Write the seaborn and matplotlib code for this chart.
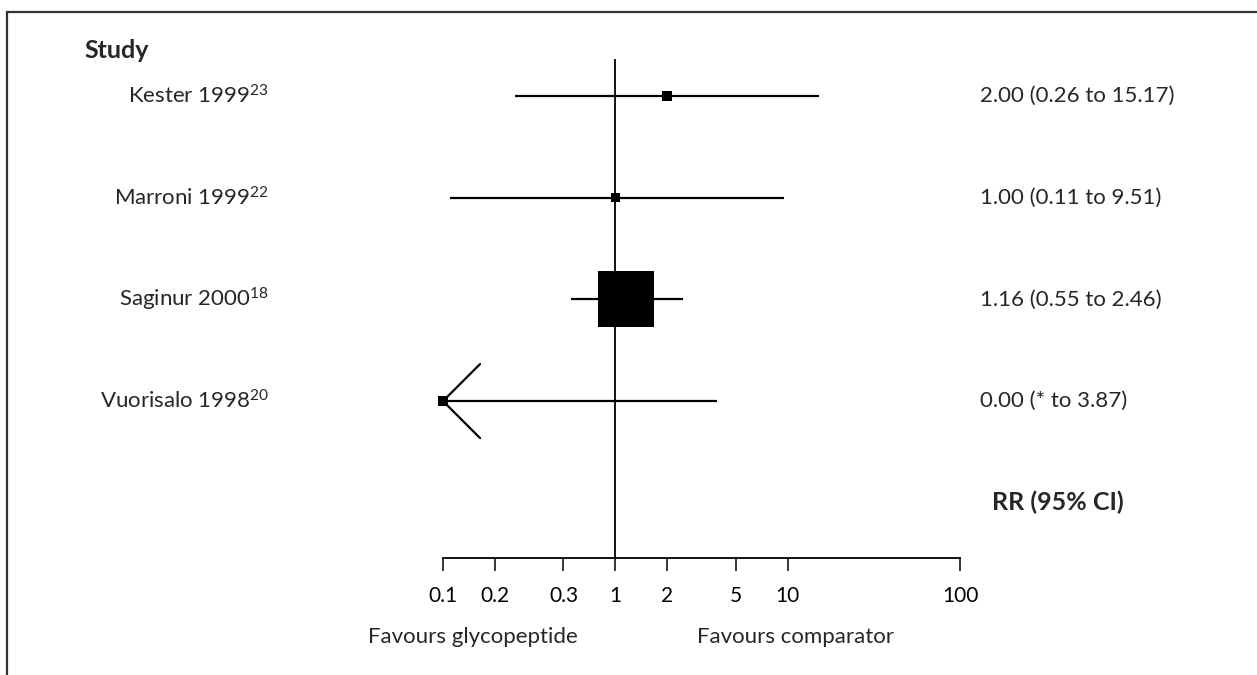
import numpy as np
import pandas as pd
import matplotlib
matplotlib.use("Agg")
import matplotlib.pyplot as plt
import seaborn as sns
from matplotlib.patches import Rectangle
from matplotlib.transforms import blended_transform_factory

# data
studies = ["Kester 1999$^{23}$", "Marroni 1999$^{22}$", "Saginur 2000$^{18}$", "Vuorisalo 1998$^{20}$"]
rr = [2.00, 1.00, 1.16, 0.00]
lower = [0.26, 0.11, 0.55, np.nan]   # '*' = not estimable
upper = [15.17, 9.51, 2.46, 3.87]
box_px = [10, 9, 56, 10]              # weight box side (pixels)
rr_text = ["2.00 (0.26 to 15.17)", "1.00 (0.11 to 9.51)", "1.16 (0.55 to 2.46)", "0.00 (* to 3.87)"]
tick_pos = [0.1, 0.2, 0.5, 1, 2, 5, 10, 100]
tick_lab = ["0.1", "0.2", "0.3", "1", "2", "5", "10", "100"]

sns.set_theme(style="white")
plt.rcParams["font.family"] = ["Lato", "DejaVu Sans"]
plt.rcParams.update({"mathtext.fontset": "custom", "mathtext.rm": "Lato",
                     "mathtext.default": "regular"})
FS = 16
FSB = 18

xmin, xmax = 0.1, 100
df = pd.DataFrame({"study": studies, "row": np.arange(len(studies)),
                   "rr": rr, "lower": lower, "upper": upper, "box": box_px})
df["x"] = df["rr"].clip(lower=xmin)
df["lo"] = df["lower"].fillna(xmin)
df["area"] = (df["box"] * 0.72) ** 2

fig = plt.figure(figsize=(12.57, 6.75), dpi=100)
W, H = 1257, 675
ax = fig.add_axes([443 / W, 1 - 558 / H, 517 / W, (558 - 59) / H])
ax.set_xscale("log")
ax.set_xlim(xmin, xmax)
ax.set_ylim(4.543, -0.364)

ax.axvline(1, color="black", lw=1.3, zorder=1)
ax.hlines(df["row"], df["lo"], df["upper"], color="black", lw=1.6, zorder=2)
sns.scatterplot(data=df, x="x", y="row", size="area",
                sizes={a: a for a in df["area"]}, marker="s",
                color="black", edgecolor="black", linewidth=0,
                legend=False, ax=ax, zorder=3, clip_on=False)

# arrow for the non-estimable lower limit
for _, r in df[df["lower"].isna()].iterrows():
    for dy in (-0.364, 0.364):
        ax.plot([xmin, xmin * 10 ** 0.215], [r["row"], r["row"] + dy],
                color="black", lw=1.6, clip_on=False)

for s in ["left", "right", "top"]:
    ax.spines[s].set_visible(False)
ax.spines["bottom"].set_color("black")
ax.spines["bottom"].set_linewidth(1.3)
ax.set_xticks(tick_pos)
ax.set_xticklabels(tick_lab, fontsize=15)
ax.xaxis.set_minor_locator(matplotlib.ticker.NullLocator())
ax.tick_params(axis="x", direction="out", length=9, width=1.1, color="black",
               bottom=True, pad=11, labelcolor="black")
ax.set_yticks([])
ax.set_xlabel("")
ax.set_ylabel("")

trl = blended_transform_factory(fig.transFigure, ax.transData)
ax.text(84 / W, -0.45, "Study", transform=trl, fontsize=FSB, fontweight="bold",
        ha="left", va="center")
for i, row in df.iterrows():
    ax.text(269 / W, row["row"], row["study"], transform=trl, fontsize=FS,
            ha="right", va="center")
    ax.text(980 / W, row["row"], rr_text[i], transform=trl, fontsize=FS,
            ha="left", va="center")
ax.text(992 / W, 4.0, "RR (95% CI)", transform=trl, fontsize=FSB,
        fontweight="bold", ha="left", va="center")

fig.text(578 / W, 1 - 637 / H, "Favours glycopeptide", fontsize=FS,
         ha="right", va="center")
fig.text(697 / W, 1 - 637 / H, "Favours comparator", fontsize=FS,
         ha="left", va="center")

fig.patches.append(Rectangle((7 / W, -0.05), 1.1, 1 - 12 / H + 0.05,
                             transform=fig.transFigure, fill=False,
                             edgecolor="#333333", lw=1.6))

fig.savefig("out.png", dpi=100, facecolor="white")
